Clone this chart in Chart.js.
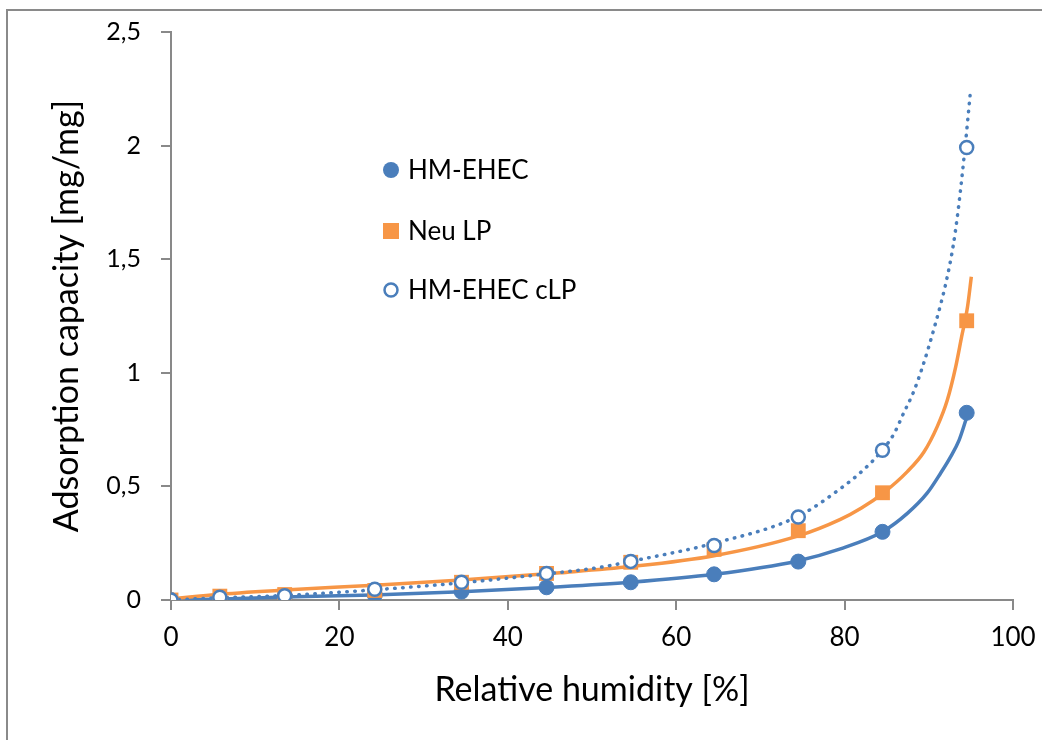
<!DOCTYPE html>
<html>
<head>
<meta charset="utf-8">
<script src="https://cdn.jsdelivr.net/npm/chart.js@4.4.1/dist/chart.umd.min.js"></script>
<style>
html, body { margin: 0; padding: 0; background: #fff; }
#wrap { position: relative; width: 1042px; height: 740px; overflow: hidden; }
#frame { position: absolute; left: 6px; top: 9px; width: 1100px; height: 800px; border-left: 2px solid #8a8a8a; border-top: 2px solid #8a8a8a; }
canvas { position: absolute; left: 0; top: 0; }
</style>
</head>
<body>
<div id="wrap">
	<div id="frame"></div>
	<canvas id="chart" width="1042" height="740"></canvas>
</div>
<script>
// measured points (relative humidity %, adsorption mg/mg)
const humidity = [0, 5.8, 13.5, 24.2, 34.5, 44.6, 54.6, 64.5, 74.5, 84.5, 94.5];
const hmEhec = [0, 0.005, 0.012, 0.022, 0.037, 0.056, 0.078, 0.113, 0.169, 0.30, 0.824];
const neuLp = [0, 0.017, 0.024, 0.042, 0.078, 0.117, 0.166, 0.223, 0.305, 0.472, 1.229];
const hmEhecClp = [0, 0.012, 0.019, 0.047, 0.078, 0.117, 0.17, 0.24, 0.365, 0.659, 1.992];

// trend lines
const hmEhecFitX = [0, 6, 13.5, 24, 34.5, 44.6, 54.6, 64.5, 74.4, 79.5, 84.5, 87.45, 89.8, 91.4, 92.6, 93.6, 94.4, 94.8];
const hmEhecFitY = [0, 0.004, 0.013, 0.022, 0.036, 0.055, 0.078, 0.113, 0.172, 0.225, 0.30, 0.381, 0.47, 0.558, 0.631, 0.704, 0.792, 0.836];
const neuLpFitX = [0, 5.8, 13.5, 24.2, 34.5, 46.2, 54.6, 64.5, 74.4, 79.5, 82, 84.7, 87.45, 89.4, 91.0, 92.2, 93.2, 93.9, 94.6, 95.05];
const neuLpFitY = [0.005, 0.025, 0.044, 0.065, 0.088, 0.12, 0.147, 0.195, 0.281, 0.355, 0.405, 0.474, 0.565, 0.65, 0.763, 0.88, 1.027, 1.159, 1.291, 1.423];
const clpFitX = [0, 5.8, 13.5, 24.2, 34.5, 44.6, 51, 54.6, 64.5, 74.4, 79.5, 82.3, 84.5, 85.9, 87.0, 88.2, 89.2, 90.0, 90.8, 91.4, 92.0, 92.9, 93.5, 94.3, 94.9];
const clpFitY = [0, 0.01, 0.02, 0.045, 0.076, 0.115, 0.144, 0.17, 0.25, 0.367, 0.49, 0.575, 0.66, 0.734, 0.822, 0.917, 1.02, 1.115, 1.218, 1.30, 1.39, 1.56, 1.72, 1.99, 2.22];

const seriesNames = ['HM-EHEC', 'Neu LP', 'HM-EHEC cLP'];
const xTicks = [0, 20, 40, 60, 80, 100];
const yTicks = [0, 0.5, 1, 1.5, 2, 2.5];

const blue = '#4a7ebb';
const orange = '#f79646';
const axisGrey = '#898989';

function pts(xs, ys) {
	return xs.map(function(x, i) { return {x: x, y: ys[i]}; });
}

Chart.defaults.font.family = 'Lato';
Chart.defaults.color = '#000';

// legend sits inside the plot, drawn by hand
const innerLegend = {
	id: 'innerLegend',
	afterDatasetsDraw: function(chart) {
		const ctx = chart.ctx;
		const x0 = 391, ys = [170, 231, 290];
		ctx.save();
		ctx.font = '26px Lato';
		ctx.textBaseline = 'middle';
		ys.forEach(function(y, i) {
			ctx.beginPath();
			if (i === 0) {
				ctx.fillStyle = blue;
				ctx.arc(x0, y, 8, 0, Math.PI * 2);
				ctx.fill();
			} else if (i === 1) {
				ctx.fillStyle = orange;
				ctx.fillRect(x0 - 8, y - 8, 16, 16);
			} else {
				ctx.strokeStyle = blue;
				ctx.lineWidth = 2.5;
				ctx.fillStyle = '#fff';
				ctx.arc(x0, y, 6.5, 0, Math.PI * 2);
				ctx.fill();
				ctx.stroke();
			}
			ctx.fillStyle = '#000';
			ctx.fillText(seriesNames[i], 408, y + 1);
		});
		ctx.restore();
	}
};

new Chart(document.getElementById('chart'), {
	type: 'scatter',
	data: {
		datasets: [
			{
				label: seriesNames[0] + ' fit',
				data: pts(hmEhecFitX, hmEhecFitY),
				showLine: true,
				pointRadius: 0,
				borderColor: blue,
				borderWidth: 3.5,
				cubicInterpolationMode: 'monotone',
				order: 6
			},
			{
				label: seriesNames[1] + ' fit',
				data: pts(neuLpFitX, neuLpFitY),
				showLine: true,
				pointRadius: 0,
				borderColor: orange,
				borderWidth: 3.5,
				cubicInterpolationMode: 'monotone',
				order: 5
			},
			{
				label: seriesNames[2] + ' fit',
				data: pts(clpFitX, clpFitY),
				showLine: true,
				pointRadius: 0,
				borderColor: blue,
				borderWidth: 3.5,
				borderDash: [0.5, 7.5],
				borderCapStyle: 'round',
				cubicInterpolationMode: 'monotone',
				order: 4
			},
			{
				label: seriesNames[0],
				data: pts(humidity, hmEhec),
				pointStyle: 'circle',
				pointRadius: 7.5,
				backgroundColor: blue,
				borderColor: blue,
				borderWidth: 1,
				order: 3
			},
			{
				label: seriesNames[1],
				data: pts(humidity, neuLp),
				pointStyle: 'rect',
				pointRadius: 10.5,
				backgroundColor: orange,
				borderColor: orange,
				borderWidth: 0,
				order: 2
			},
			{
				label: seriesNames[2],
				data: pts(humidity, hmEhecClp),
				pointStyle: 'circle',
				pointRadius: 6.5,
				backgroundColor: '#fff',
				borderColor: blue,
				borderWidth: 2.5,
				order: 1
			}
		]
	},
	options: {
		responsive: false,
		animation: false,
		layout: {
			padding: {top: 32, right: 29, bottom: 0, left: 0}
		},
		plugins: {
			legend: {display: false},
			tooltip: {enabled: false}
		},
		scales: {
			x: {
				type: 'linear',
				min: 0,
				max: 100,
				afterBuildTicks: function(scale) {
					scale.ticks = xTicks.map(function(v) { return {value: v}; });
				},
				afterFit: function(scale) {
					scale.height = 140;
					scale.paddingLeft = 0;
					scale.paddingRight = 0;
				},
				grid: {drawOnChartArea: false, color: axisGrey, lineWidth: 2, tickLength: 10},
				border: {color: axisGrey, width: 2},
				ticks: {font: {size: 26}, padding: 12, maxRotation: 0},
				title: {display: true, text: 'Relative humidity [%]', font: {size: 34}, padding: {top: 0, bottom: 30}}
			},
			y: {
				type: 'linear',
				min: 0,
				max: 2.5,
				afterBuildTicks: function(scale) {
					scale.ticks = yTicks.map(function(v) { return {value: v}; });
				},
				afterFit: function(scale) {
					scale.width = 171;
					scale.paddingTop = 0;
					scale.paddingBottom = 0;
				},
				grid: {drawOnChartArea: false, color: axisGrey, lineWidth: 2, tickLength: 10},
				border: {color: axisGrey, width: 2},
				ticks: {
					font: {size: 25},
					padding: 20,
					callback: function(v) { return String(v).replace('.', ','); }
				},
				title: {display: true, text: 'Adsorption capacity [mg/mg]', font: {size: 34}, padding: {top: 47, bottom: 0}}
			}
		}
	},
	plugins: [innerLegend]
});
</script>
</body>
</html>
